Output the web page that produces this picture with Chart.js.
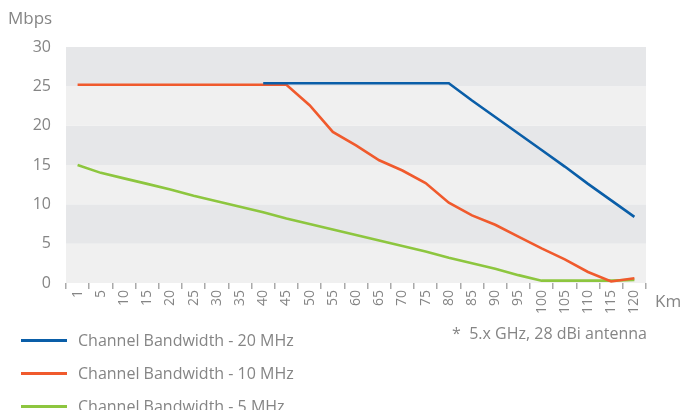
<!DOCTYPE html>
<html>
<head>
<meta charset="utf-8">
<script src="https://cdn.jsdelivr.net/npm/chart.js@4"></script>
<style>
  body { margin: 0; background: #fff; font-family: "Open Sans", sans-serif; color: #858585; }
  #wrap { position: relative; width: 685px; height: 410px; }
  canvas { position: absolute; left: 0; top: 0; }
  .txt { position: absolute; white-space: nowrap; line-height: 22px; }
  .leg { position: absolute; left: 21px; font-size: 16px; line-height: 22px; white-space: nowrap; }
  .leg span { display: inline-block; width: 46px; height: 3px; vertical-align: middle; margin-right: 11px; position: relative; top: -1px; }
</style>
</head>
<body>
<div id="wrap">
  <canvas id="c" width="685" height="410"></canvas>
  <div class="txt" style="left:8px;top:7px;font-size:17px;">Mbps</div>
  <div class="txt" style="left:655px;top:290px;font-size:17px;">Km</div>
  <div class="txt" style="left:452px;top:322px;font-size:16px;">*&nbsp; 5.x GHz, 28 dBi antenna</div>
  <div class="leg" style="top:329px;"><span style="background:#0a5ea8"></span>Channel Bandwidth - 20 MHz</div>
  <div class="leg" style="top:362px;"><span style="background:#f05a2d"></span>Channel Bandwidth - 10 MHz</div>
  <div class="leg" style="top:395px;"><span style="background:#8dc63f"></span>Channel Bandwidth - 5 MHz</div>
</div>
<script>
// odległość w km (kategorie osi X)
const distances = ['1','5','10','15','20','25','30','35','40','45','50','55','60','65','70','75','80','85','90','95','100','105','110','115','120'];
const bw20 = [null,null,null,null,null,null,null,null,25.4,25.4,25.4,25.4,25.4,25.4,25.4,25.4,25.4,23.2,21.1,19.0,16.9,14.8,12.6,10.5,8.4];
const bw10 = [25.2,25.2,25.2,25.2,25.2,25.2,25.2,25.2,25.2,25.2,22.6,19.2,17.5,15.6,14.3,12.7,10.2,8.6,7.4,5.9,4.4,3.0,1.4,0.2,0.6];
const bw5  = [15.0,14.0,13.3,12.6,11.9,11.1,10.4,9.7,9.0,8.2,7.5,6.8,6.1,5.4,4.7,4.0,3.2,2.5,1.8,1.0,0.3,0.3,0.3,0.3,0.4];
const yTicks = [0,5,10,15,20,25,30];

// pasy tła co 5 Mbps
const bandsPlugin = {
  id: 'bands',
  beforeDatasetsDraw(chart) {
    const {ctx, chartArea, scales: {y}} = chart;
    ctx.save();
    for (let i = 0; i < yTicks.length - 1; i++) {
      const top = y.getPixelForValue(yTicks[i + 1]);
      const bottom = y.getPixelForValue(yTicks[i]);
      ctx.fillStyle = (i % 2 === 0) ? '#f0f0f0' : '#e6e7e9';
      ctx.fillRect(chartArea.left, top, chartArea.right - chartArea.left, bottom - top);
    }
    ctx.restore();
  }
};

const line = (data, color) => ({
  data: data,
  borderColor: color,
  borderWidth: 2.6,
  pointRadius: 0,
  tension: 0,
  fill: false,
  spanGaps: false
});

new Chart(document.getElementById('c'), {
  type: 'line',
  data: {
    labels: distances,
    datasets: [line(bw20, '#0a5ea8'), line(bw10, '#f05a2d'), line(bw5, '#8dc63f')]
  },
  options: {
    responsive: false,
    animation: false,
    layout: { padding: { left: 0, right: 39, top: 47, bottom: 0 } },
    plugins: { legend: { display: false }, tooltip: { enabled: false } },
    scales: {
      x: {
        offset: true,
        grid: { offset: true, drawOnChartArea: false, tickLength: 6, color: '#aaaaaa', lineWidth: 1.5 },
        border: { display: false },
        ticks: { minRotation: 90, maxRotation: 90, autoSkip: false, color: '#858585', font: { family: 'Open Sans', size: 14 }, padding: 1 },
        afterFit(scale) { scale.height = 127; }
      },
      y: {
        min: 0, max: 30,
        afterBuildTicks(scale) { scale.ticks = yTicks.map(v => ({value: v})); },
        grid: { display: false, drawTicks: false },
        border: { display: false },
        ticks: { color: '#858585', font: { family: 'Open Sans', size: 16 }, padding: 15 },
        afterFit(scale) { scale.width = 66; }
      }
    }
  },
  plugins: [bandsPlugin]
});
</script>
</body>
</html>
